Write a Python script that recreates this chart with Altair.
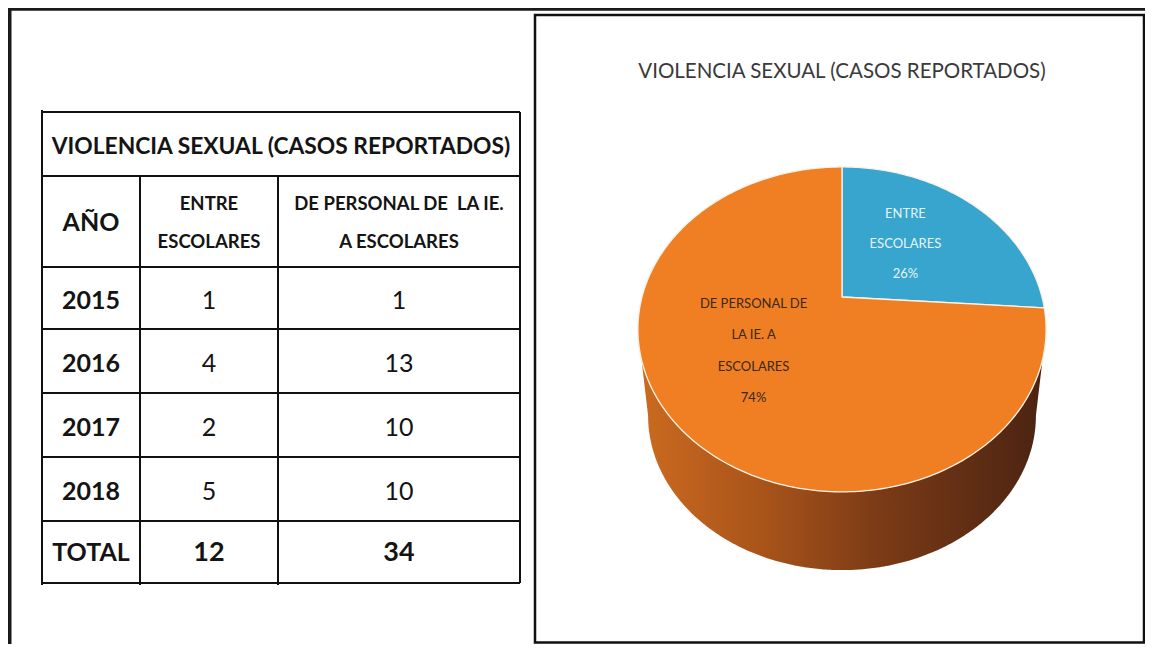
import numpy as np
import pandas as pd
import altair as alt

# ---------------- data ----------------
YEARS = ["2015", "2016", "2017", "2018"]
ENTRE_ESCOLARES = [1, 4, 2, 5]
PERSONAL_IE = [1, 13, 10, 10]
TABLE_TITLE = "VIOLENCIA SEXUAL (CASOS REPORTADOS)"
HEADER_ANIO = "AÑO"
HEADER_ENTRE = ["ENTRE", "ESCOLARES"]
HEADER_PERSONAL = ["DE PERSONAL DE\u00a0 LA IE.", "A ESCOLARES"]
TOTAL_LABEL = "TOTAL"
PIE_TITLE = "VIOLENCIA SEXUAL (CASOS REPORTADOS)"
PIE_CATEGORIES = ["ENTRE ESCOLARES", "DE PERSONAL DE LA IE. A ESCOLARES"]
PIE_LABEL_LINES = [["ENTRE", "ESCOLARES"], ["DE PERSONAL DE", "LA IE. A", "ESCOLARES"]]

TOTALS = [sum(ENTRE_ESCOLARES), sum(PERSONAL_IE)]
PIE_VALUES = TOTALS

# ---------------- layout ----------------
W, H = 1137, 636
X0, Y0 = 8, 8
XS = alt.Scale(domain=[X0, X0 + W], nice=False, zero=False)
YS = alt.Scale(domain=[Y0, Y0 + H], nice=False, zero=False, reverse=True)

FONT = "Lato, 'Open Sans', sans-serif"
INK = "#141414"

COL_EDGES = [42, 140, 278, 520]
ROW_EDGES = [112, 176, 267, 329, 393, 457, 521, 583]
COL_MID = [(COL_EDGES[i] + COL_EDGES[i + 1]) / 2 for i in range(3)]
ROW_MID = [(ROW_EDGES[i] + ROW_EDGES[i + 1]) / 2 for i in range(len(ROW_EDGES) - 1)]

BLUE = "#37a5cd"
ORANGE = "#ef7f22"
LABEL_R = 0.5

# perspective pie parameters
PIE_CX, PIE_CY = 842, 297
PERSP_F, PERSP_D = 628.0, 3.14
SIN_T, COS_T = 0.78, 0.626
SIDE_SCALE, SIDE_DROP = 0.95, 88.0


def X(f):
    return alt.X(f, type="quantitative", scale=XS, axis=None)


def Y(f):
    return alt.Y(f, type="quantitative", scale=YS, axis=None)


# ---------------- frame ----------------
frame_df = pd.DataFrame([
    {"x": 7, "y": 9, "x2": X0 + W, "y2": 9, "w": 3.5},
    {"x": 9.5, "y": 7, "x2": 9.5, "y2": Y0 + H, "w": 4},
])
frame = alt.Chart(frame_df).mark_rule(color="#1a1a1a").encode(
    x=X("x"), y=Y("y"), x2="x2", y2="y2", strokeWidth=alt.StrokeWidth("w:Q", scale=None)
)

box_df = pd.DataFrame([{"x": 535, "y": 15, "x2": X0 + W - 1, "y2": Y0 + H - 1.5}])
box = alt.Chart(box_df).mark_rect(filled=False, stroke="#111111", strokeWidth=2.5).encode(
    x=X("x"), y=Y("y"), x2="x2", y2="y2"
)

# ---------------- table ----------------
rules = []
for yy in ROW_EDGES:
    rules.append({"x": COL_EDGES[0], "y": yy, "x2": COL_EDGES[-1], "y2": yy})
rules.append({"x": COL_EDGES[0], "y": ROW_EDGES[0] - 2, "x2": COL_EDGES[0], "y2": ROW_EDGES[-1] + 2})
rules.append({"x": COL_EDGES[-1], "y": ROW_EDGES[0], "x2": COL_EDGES[-1], "y2": ROW_EDGES[-1]})
for xx in COL_EDGES[1:-1]:
    rules.append({"x": xx, "y": ROW_EDGES[1], "x2": xx, "y2": ROW_EDGES[-1] + 2})
table_rules = alt.Chart(pd.DataFrame(rules)).mark_rule(color="#111111", strokeWidth=2).encode(
    x=X("x"), y=Y("y"), x2="x2", y2="y2"
)


def text_layer(rows, size, weight="normal", color=INK, font=FONT):
    df = pd.DataFrame(rows, columns=["text", "x", "y"])
    return alt.Chart(df).mark_text(
        font=font, fontSize=size, fontWeight=weight, color=color,
        align="center", baseline="middle"
    ).encode(x=X("x"), y=Y("y"), text="text:N")


title_t = text_layer([[TABLE_TITLE, (COL_EDGES[0] + COL_EDGES[-1]) / 2, ROW_MID[0] + 3]], 22.8, "bold")
anio_t = text_layer([[HEADER_ANIO, COL_MID[0], ROW_MID[1] + 1]], 25, "bold")
head_rows = []
for i, line in enumerate(HEADER_ENTRE):
    head_rows.append([line, COL_MID[1], ROW_MID[1] - 18 + 38 * i])
for i, line in enumerate(HEADER_PERSONAL):
    head_rows.append([line, COL_MID[2], ROW_MID[1] - 18 + 38 * i])
head_t = text_layer(head_rows, 18.5, "bold")

year_rows = [[y, COL_MID[0], ROW_MID[2 + i] + 3] for i, y in enumerate(YEARS)]
years_t = text_layer(year_rows, 25, "bold")
num_rows = []
for i, (a, b) in enumerate(zip(ENTRE_ESCOLARES, PERSONAL_IE)):
    num_rows.append([str(a), COL_MID[1], ROW_MID[2 + i] + 3])
    num_rows.append([str(b), COL_MID[2], ROW_MID[2 + i] + 3])
nums_t = text_layer(num_rows, 25, "normal")
total_label_t = text_layer([[TOTAL_LABEL, COL_MID[0], ROW_MID[-1] + 1]], 25, "bold")
total_nums_t = text_layer([[str(TOTALS[0]), COL_MID[1], ROW_MID[-1] + 1],
                           [str(TOTALS[1]), COL_MID[2], ROW_MID[-1] + 1]], 27, "bold")

# ---------------- 3D pie ----------------


def proj(theta, r=1.0):
    xx = r * np.sin(theta)
    yy = -r * np.cos(theta)
    t = PERSP_D - yy * COS_T
    return PIE_CX + PERSP_F * xx / t, PIE_CY + PERSP_F * yy * SIN_T / t


total = float(sum(PIE_VALUES))
fracs = [v / total for v in PIE_VALUES]
starts = np.concatenate([[0.0], np.cumsum(fracs)[:-1]]) * 2 * np.pi

slice_feats = []
label_rows = []
for k, (cat, s, f) in enumerate(zip(PIE_CATEGORIES, starts, fracs)):
    e = s + f * 2 * np.pi
    th = np.linspace(s, e, max(12, int(f * 400)))
    xs, ys = proj(th)
    ring = [[float(PIE_CX), float(PIE_CY)]] + [[float(a), float(b)] for a, b in zip(xs, ys)] + [[float(PIE_CX), float(PIE_CY)]]
    slice_feats.append({"type": "Feature", "properties": {"part": cat},
                        "geometry": {"type": "Polygon", "coordinates": [ring]}})
    lx, ly = proj((s + e) / 2, LABEL_R)
    pct = f"{round(100 * f)}%"
    txt = "\n".join(PIE_LABEL_LINES[k] + [pct])
    label_rows.append([txt, float(lx), float(ly)])

# side band (front of the cylinder)
ths = np.arccos(-COS_T / PERSP_D)
th_side = np.linspace(ths, 2 * np.pi - ths, 300)
tx, ty = proj(th_side)
bx = PIE_CX + (tx - PIE_CX) * SIDE_SCALE
by = PIE_CY + (ty - PIE_CY) * SIDE_SCALE + SIDE_DROP
side_ring = [[float(a), float(b)] for a, b in zip(tx, ty)] + \
            [[float(a), float(b)] for a, b in zip(bx[::-1], by[::-1])]
side_ring.append(side_ring[0])
side_feat = [{"type": "Feature", "properties": {"part": "side"},
              "geometry": {"type": "Polygon", "coordinates": [side_ring]}}]

side = alt.Chart(alt.Data(values=side_feat)).mark_geoshape(
    fill=alt.Gradient(
        gradient="linear", x1=0, x2=1, y1=0, y2=0,
        stops=[alt.GradientStop(offset=0, color="#cc6b20"),
               alt.GradientStop(offset=0.3, color="#a9541a"),
               alt.GradientStop(offset=0.6, color="#7a3a16"),
               alt.GradientStop(offset=1, color="#4a2312")]),
    strokeWidth=0
).project(type="identity", scale=1, translate=[-X0, -Y0])

top = alt.Chart(alt.Data(values=slice_feats)).mark_geoshape(
    stroke="#fbf1e6", strokeWidth=1.3
).encode(
    color=alt.Color("properties.part:N", scale=alt.Scale(domain=PIE_CATEGORIES, range=[BLUE, ORANGE]), legend=None)
).project(type="identity", scale=1, translate=[-X0, -Y0])

n_blue = len(PIE_LABEL_LINES[0]) + 1
n_orange = len(PIE_LABEL_LINES[1]) + 1
lab_blue = alt.Chart(pd.DataFrame(label_rows[:1], columns=["text", "x", "y"])).mark_text(
    font=FONT, fontSize=13, color="#e6f3f8", align="center", baseline="middle",
    lineBreak="\n", lineHeight=30, dy=-(n_blue - 1) / 2 * 30 - 3, dx=-5
).encode(x=X("x"), y=Y("y"), text="text:N")
lab_orange = alt.Chart(pd.DataFrame(label_rows[1:], columns=["text", "x", "y"])).mark_text(
    font=FONT, fontSize=13, color="#3a2818", align="center", baseline="middle",
    lineBreak="\n", lineHeight=31.5, dy=-(n_orange - 1) / 2 * 31.5 - 3, dx=-10
).encode(x=X("x"), y=Y("y"), text="text:N")

pie_title = text_layer([[PIE_TITLE, 842, 72]], 20.5, "normal", "#3a3a3a")

chart = alt.layer(
    frame, box, table_rules,
    title_t, anio_t, head_t, years_t, nums_t, total_label_t, total_nums_t,
    side, top, lab_blue, lab_orange, pie_title
).properties(
    width=W, height=H, padding=0, autosize=alt.AutoSizeParams(type="none"), background="white"
).configure_view(strokeWidth=0)

chart.save("out.html", embed_options={"renderer": "svg", "actions": False})
